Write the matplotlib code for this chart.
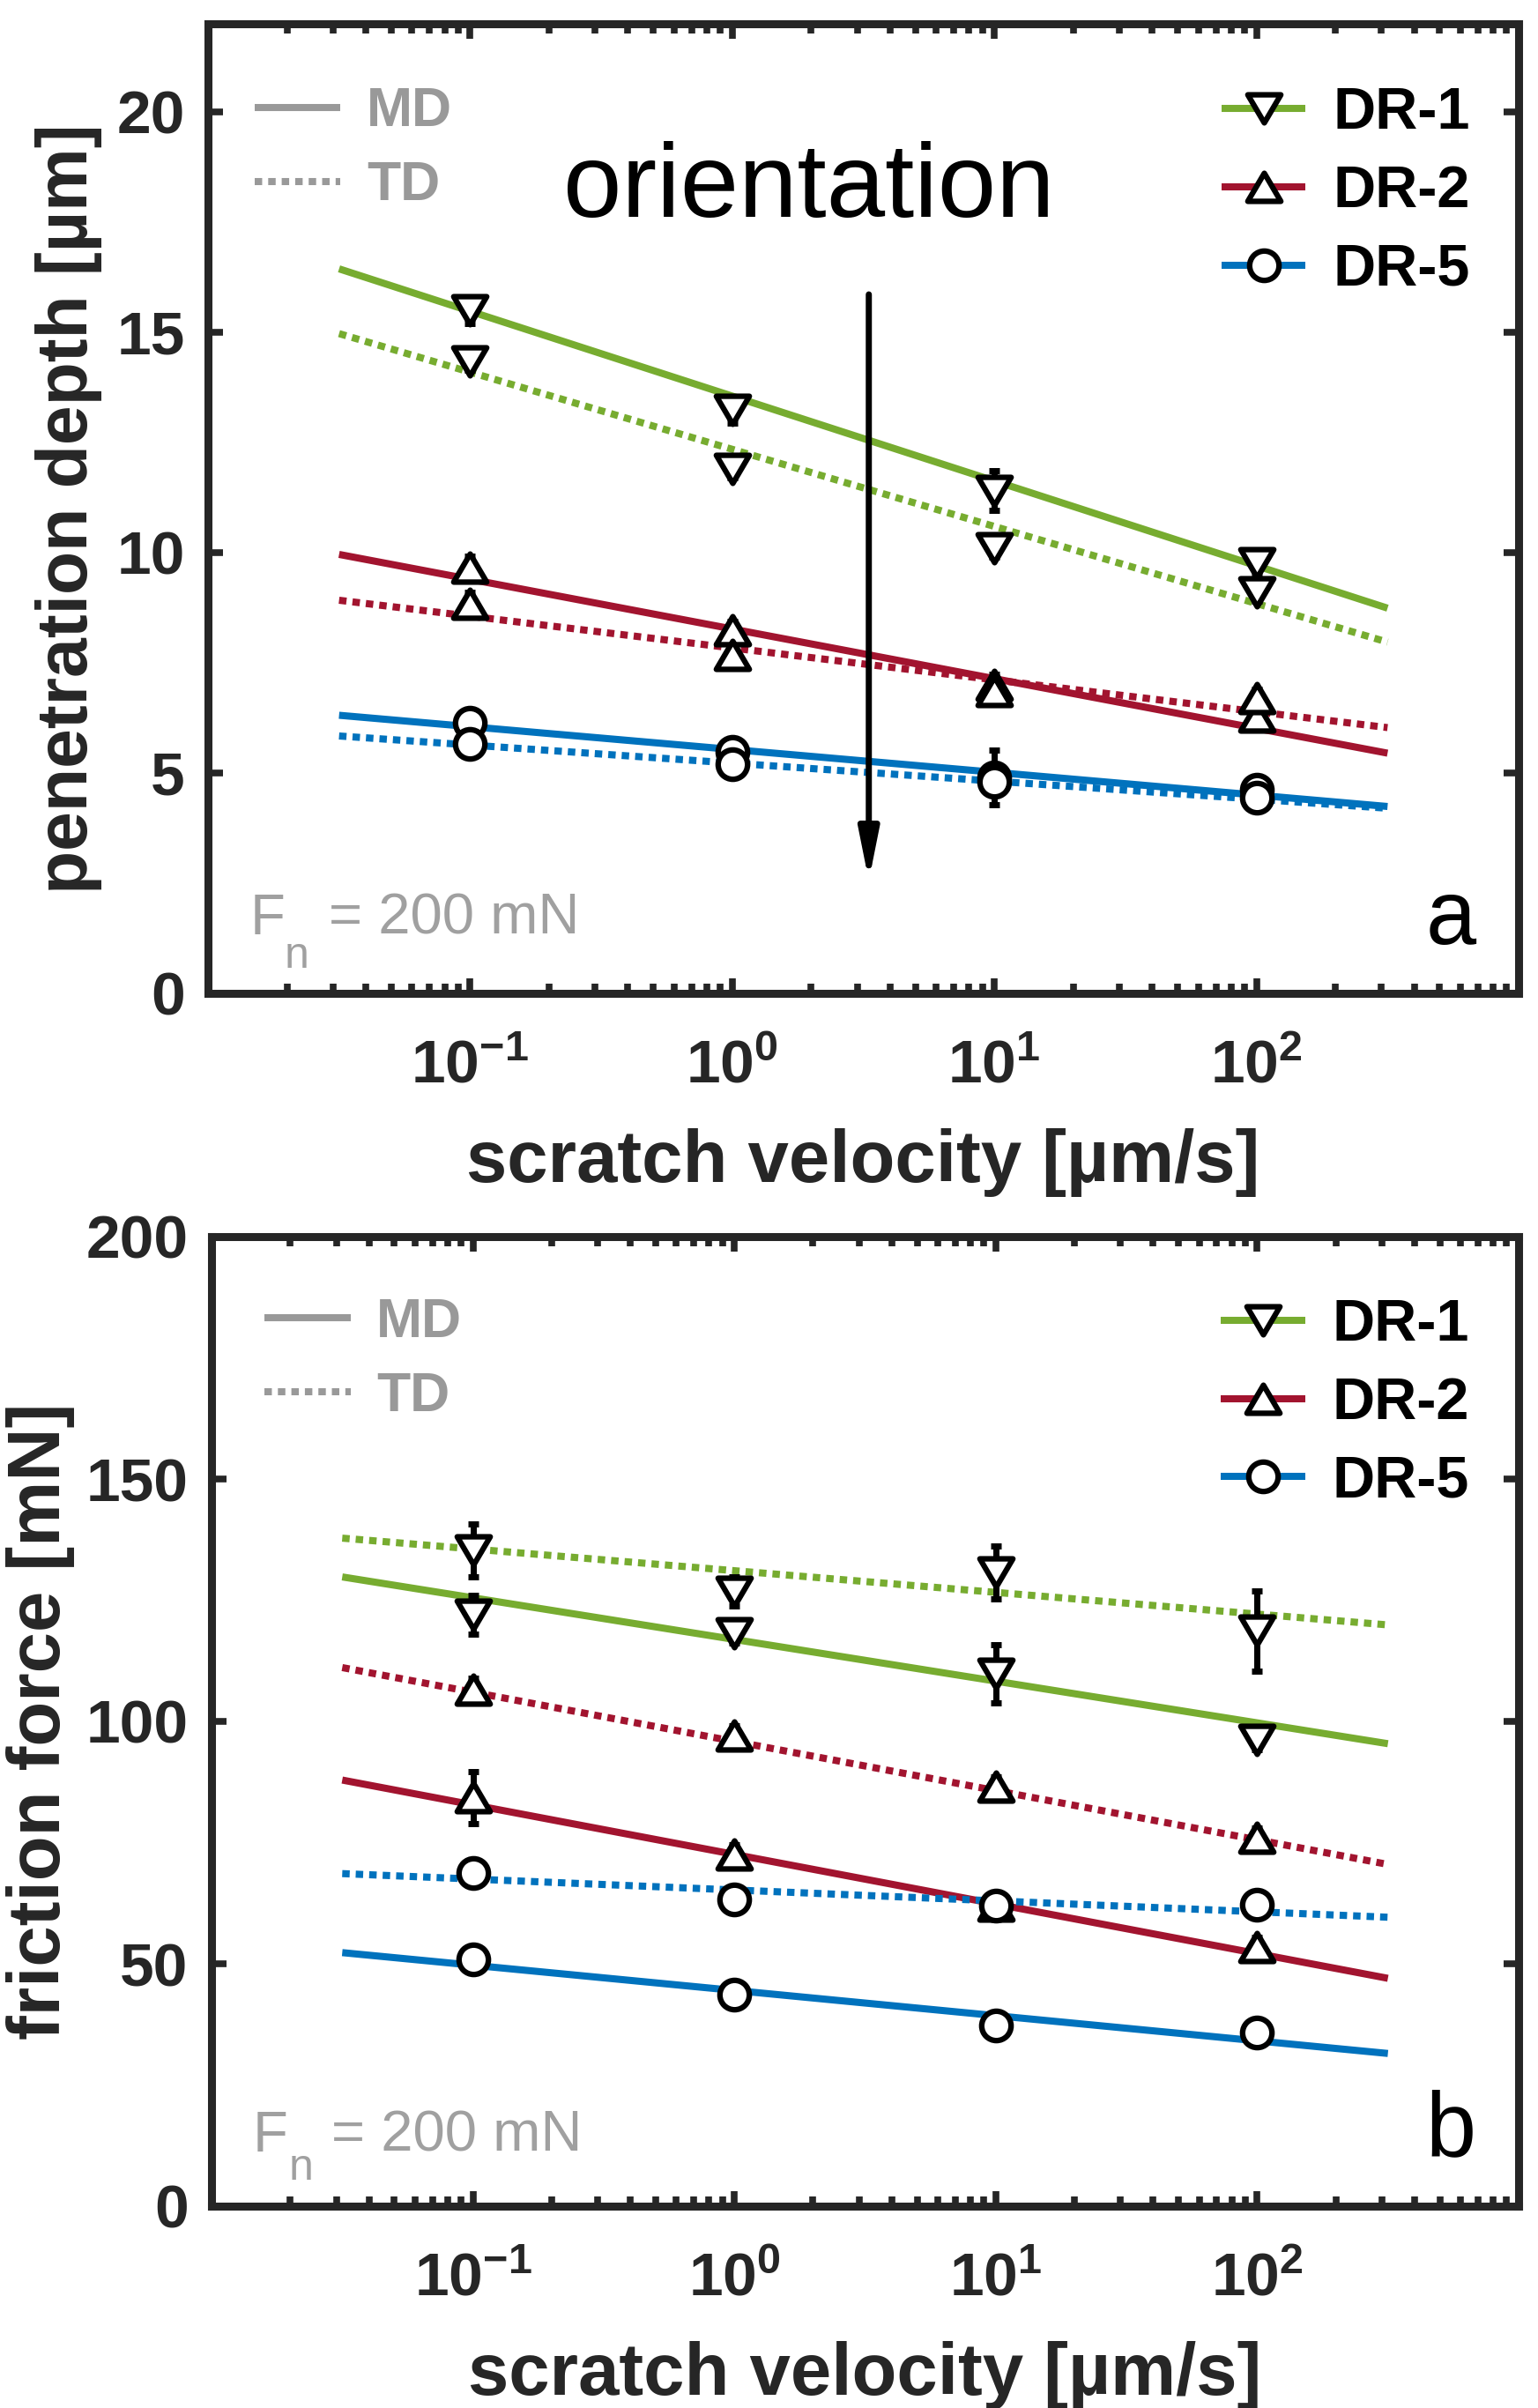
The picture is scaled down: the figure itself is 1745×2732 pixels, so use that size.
import numpy as np
import matplotlib
matplotlib.use('Agg')
import matplotlib.pyplot as plt
from matplotlib.lines import Line2D
from matplotlib.path import Path
from matplotlib.ticker import FixedLocator, FuncFormatter, NullFormatter, LogLocator

plt.rcParams['font.family'] = ['Liberation Sans', 'DejaVu Sans']
plt.rcParams['mathtext.fontset'] = 'custom'
plt.rcParams['mathtext.rm'] = 'Liberation Sans'
plt.rcParams['mathtext.bf'] = 'Liberation Sans:bold'
plt.rcParams['mathtext.it'] = 'Liberation Sans:italic'

# ------------------------------------------------------------------ data
velocity = [0.1, 1, 10, 100]                 # scratch velocity [µm/s]
fit_velocity = [10 ** -1.5, 10 ** 2.5]       # range of the fitted lines
x_ticks = [0.1, 1, 10, 100]

samples = ['DR-1', 'DR-2', 'DR-5']
orientations = ['MD', 'TD']

# (a) penetration depth [µm]
depth_dr1_md = [15.51, 13.25, 11.41, 9.77]
depth_dr1_td = [14.35, 11.91, 10.10, 9.11]
depth_dr2_md = [9.67, 8.24, 7.00, 6.29]
depth_dr2_td = [8.85, 7.68, 6.86, 6.71]
depth_dr5_md = [6.15, 5.49, 4.90, 4.62]
depth_dr5_td = [5.67, 5.21, 4.80, 4.45]

depth_err_dr1_md = [0.30, 0.30, 0.45, 0.30]
depth_err_dr1_td = [0.20, 0.20, 0.20, 0.20]
depth_err_dr2_md = [0.25, 0.20, 0.25, 0.20]
depth_err_dr2_td = [0.25, 0.20, 0.20, 0.20]
depth_err_dr5_md = [0.25, 0.20, 0.62, 0.25]
depth_err_dr5_td = [0.20, 0.20, 0.20, 0.20]

depth_fit_dr1_md = [16.44, 8.74]
depth_fit_dr1_td = [14.97, 7.97]
depth_fit_dr2_md = [9.96, 5.45]
depth_fit_dr2_td = [8.92, 6.03]
depth_fit_dr5_md = [6.31, 4.24]
depth_fit_dr5_td = [5.84, 4.20]

depth_ticks = [0, 5, 10, 15, 20]

# (b) friction force [mN]
force_dr1_md = [122.0, 118.2, 109.9, 96.1]
force_dr1_td = [135.3, 126.8, 130.7, 118.7]
force_dr2_md = [84.3, 72.6, 62.0, 53.4]
force_dr2_td = [106.5, 97.1, 86.5, 76.0]
force_dr5_md = [50.9, 43.6, 37.2, 35.8]
force_dr5_td = [68.8, 63.3, 62.0, 62.2]

force_err_dr1_md = [4.0, 2.0, 6.0, 2.0]
force_err_dr1_td = [5.5, 3.0, 5.5, 8.3]
force_err_dr2_md = [5.3, 2.0, 2.0, 2.0]
force_err_dr2_td = [2.5, 2.0, 2.0, 2.0]
force_err_dr5_md = [2.5, 2.5, 2.0, 2.0]
force_err_dr5_td = [2.0, 2.0, 2.5, 2.0]

force_fit_dr1_md = [129.8, 95.4]
force_fit_dr1_td = [137.8, 119.9]
force_fit_dr2_md = [87.9, 47.0]
force_fit_dr2_td = [111.1, 70.5]
force_fit_dr5_md = [52.3, 31.5]
force_fit_dr5_td = [68.6, 59.6]

force_ticks = [0, 50, 100, 150, 200]

# ------------------------------------------------------------------ style
AX_COL = '#262626'
GRAY = '#999999'
FN_GRAY = '#a0a0a0'
colors = {'DR-1': '#77ac30', 'DR-2': '#a2142f', 'DR-5': '#0072bd'}
LW = 5.8
DOT = (0, (1.05, 0.85))
styles = {'MD': '-', 'TD': DOT}

tri_down = Path([(-1, 0.85), (1, 0.85), (0, -0.85), (-1, 0.85)],
                [Path.MOVETO, Path.LINETO, Path.LINETO, Path.CLOSEPOLY])
tri_up = Path([(-1, -0.85), (1, -0.85), (0, 0.85), (-1, -0.85)],
              [Path.MOVETO, Path.LINETO, Path.LINETO, Path.CLOSEPOLY])
markers = {'DR-1': (tri_down, 27), 'DR-2': (tri_up, 27), 'DR-5': ('o', 24)}
MEW = 4.5

depth_data = {
    ('DR-1', 'MD'): (depth_dr1_md, depth_err_dr1_md, depth_fit_dr1_md),
    ('DR-1', 'TD'): (depth_dr1_td, depth_err_dr1_td, depth_fit_dr1_td),
    ('DR-2', 'MD'): (depth_dr2_md, depth_err_dr2_md, depth_fit_dr2_md),
    ('DR-2', 'TD'): (depth_dr2_td, depth_err_dr2_td, depth_fit_dr2_td),
    ('DR-5', 'MD'): (depth_dr5_md, depth_err_dr5_md, depth_fit_dr5_md),
    ('DR-5', 'TD'): (depth_dr5_td, depth_err_dr5_td, depth_fit_dr5_td),
}
force_data = {
    ('DR-1', 'MD'): (force_dr1_md, force_err_dr1_md, force_fit_dr1_md),
    ('DR-1', 'TD'): (force_dr1_td, force_err_dr1_td, force_fit_dr1_td),
    ('DR-2', 'MD'): (force_dr2_md, force_err_dr2_md, force_fit_dr2_md),
    ('DR-2', 'TD'): (force_dr2_td, force_err_dr2_td, force_fit_dr2_td),
    ('DR-5', 'MD'): (force_dr5_md, force_err_dr5_md, force_fit_dr5_md),
    ('DR-5', 'TD'): (force_dr5_td, force_err_dr5_td, force_fit_dr5_td),
}


def draw_panel(ax, data, ylim, yticks, ylabel, ylabelsize, ylabelpad, letter,
               fn_pos, leg1_pos, leg2_pos):
    ax.set_xscale('log')
    ax.set_xlim(0.01, 1000)
    ax.set_ylim(*ylim)

    for s in samples:
        for o in orientations:
            vals, err, fit = data[(s, o)]
            ax.plot(fit_velocity, fit, color=colors[s], ls=styles[o], lw=LW,
                    solid_capstyle='butt', dash_capstyle='butt', zorder=2)
    for s in samples:
        for o in orientations:
            vals, err, fit = data[(s, o)]
            ax.errorbar(velocity, vals, yerr=err, fmt='none', ecolor='black',
                        elinewidth=5, capsize=4.5, capthick=5, zorder=3)
    for s in samples:
        for o in orientations:
            vals, err, fit = data[(s, o)]
            m, ms = markers[s]
            ax.plot(velocity, vals, ls='none', marker=m, ms=ms,
                    mfc='white', mec='black', mew=MEW, zorder=4)

    # axes styling
    for sp in ax.spines.values():
        sp.set_linewidth(6.5)
        sp.set_color(AX_COL)
    ax.xaxis.set_major_locator(FixedLocator(x_ticks))
    ax.xaxis.set_minor_locator(LogLocator(base=10, subs=np.arange(2, 10), numticks=30))
    ax.xaxis.set_minor_formatter(NullFormatter())
    ax.xaxis.set_major_formatter(FuncFormatter(
        lambda v, p: r'$\mathbf{10^{%d}}$' % int(round(np.log10(v)))))
    ax.yaxis.set_major_locator(FixedLocator(yticks))
    ax.set_yticklabels([str(t) for t in yticks], fontweight='bold')
    ax.tick_params(which='both', direction='in', top=True, right=True,
                   color=AX_COL, labelcolor=AX_COL, width=5.5)
    ax.tick_params(which='major', length=12.5, labelsize=50)
    ax.tick_params(which='minor', length=8)
    ax.tick_params(axis='x', which='major', pad=37)
    ax.tick_params(axis='y', which='major', pad=19)

    ax.set_xlabel('scratch velocity [µm/s]', fontsize=60, fontweight='bold',
                  color=AX_COL, labelpad=27)
    ax.set_ylabel(ylabel, fontsize=ylabelsize, fontweight='bold', color=AX_COL,
                  labelpad=ylabelpad)

    # orientation legend (gray)
    h_md = Line2D([], [], color=GRAY, lw=LW, ls='-', solid_capstyle='butt')
    h_td = Line2D([], [], color=GRAY, lw=LW, ls=DOT, dash_capstyle='butt')
    leg1 = ax.legend([h_md, h_td], orientations, loc='upper left',
                     bbox_to_anchor=leg1_pos, frameon=False,
                     prop={'size': 45, 'weight': 'bold'}, handlelength=1.56,
                     handletextpad=0.47, labelspacing=0.40, borderpad=0,
                     borderaxespad=0)
    for t in leg1.get_texts():
        t.set_color(GRAY)
    ax.add_artist(leg1)

    # sample legend
    handles = []
    for s in samples:
        m, ms = markers[s]
        handles.append(Line2D([], [], color=colors[s], lw=LW, marker=m, ms=ms,
                              mfc='white', mec='black', mew=MEW,
                              solid_capstyle='butt'))
    leg2 = ax.legend(handles, samples, loc='upper left', bbox_to_anchor=leg2_pos,
                     frameon=False, prop={'size': 48, 'weight': 'bold'},
                     handlelength=1.43, handletextpad=0.46, labelspacing=0.40,
                     borderpad=0, borderaxespad=0, numpoints=1)
    for t in leg2.get_texts():
        t.set_color('black')

    # F_n annotation
    fx, fy, nx, ny, ex = fn_pos
    ax.text(fx, fy, 'F', transform=ax.transAxes, fontsize=47, color=FN_GRAY,
            ha='left', va='baseline')
    ax.text(nx, ny, 'n', transform=ax.transAxes, fontsize=36, color=FN_GRAY,
            ha='left', va='baseline')
    ax.text(ex, fy, '= 200 mN', transform=ax.transAxes, fontsize=47,
            color=FN_GRAY, ha='left', va='baseline')
    # panel letter
    ax.text(letter[1], letter[2], letter[0], transform=ax.transAxes, fontsize=74,
            color='black', ha='right', va='baseline')


fig = plt.figure(figsize=(17.45, 27.32), dpi=100)
ax_a = fig.add_axes([236 / 1745, 1 - 1127 / 2732, 1487 / 1745, 1100 / 2732])
ax_b = fig.add_axes([240 / 1745, 1 - 2503 / 2732, 1483 / 1745, 1100 / 2732])

draw_panel(ax_a, depth_data, (0, 22), depth_ticks, 'penetration depth [µm]', 58, 12,
           ('a', 0.9676, 0.0511), (0.0321, 0.0611, 0.0583, 0.0260, 0.0920),
           (0.0356, 0.9360), (0.7734, 0.9350))
draw_panel(ax_b, force_data, (0, 200), force_ticks, 'friction force [mN]', 60, 9,
           ('b', 0.9676, 0.0523), (0.0317, 0.0564, 0.0594, 0.0272, 0.0917),
           (0.0405, 0.9380), (0.7724, 0.9360))

# orientation arrow and text (panel a)
ax_a.text(0.4586, 0.8012, 'orientation', transform=ax_a.transAxes, fontsize=86,
          color='black', ha='center', va='baseline')
ax_a.annotate('', xy=(0.5042, 0.1160), xycoords='axes fraction',
              xytext=(0.5042, 0.7209), textcoords='axes fraction',
              arrowprops=dict(arrowstyle='-|>,head_length=0.85,head_width=0.17',
                              lw=5, color='black', mutation_scale=40,
                              shrinkA=0, shrinkB=0))

fig.savefig('out.png', dpi=100)
